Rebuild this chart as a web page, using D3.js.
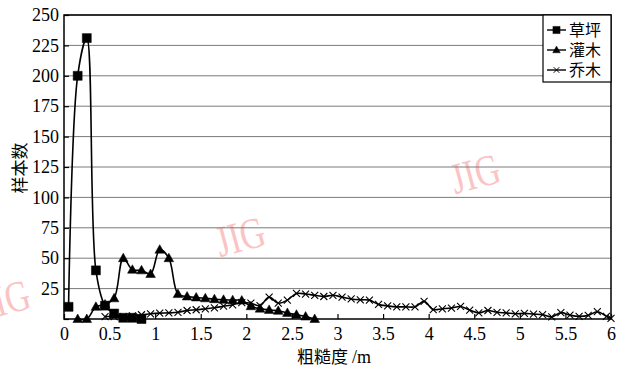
<!DOCTYPE html>
<html>
<head>
<meta charset="utf-8">
<script src="https://cdn.jsdelivr.net/npm/d3@7"></script>
<style>
  body { margin: 0; background: #fff; }
  svg { display: block; }
  svg text.num { font-family: "Liberation Serif", serif; font-size: 18px; }
</style>
</head>
<body>
<div id="chart"></div>
<script>
// Data (roughness in m, sample counts)
var grassX = [0.05, 0.15, 0.25, 0.35, 0.45, 0.55, 0.65, 0.75, 0.85];
var grassY = [10, 200, 231, 40, 11, 4.5, 1, 1, 0];

var shrubX = [0.15, 0.25, 0.35, 0.45, 0.55, 0.65, 0.75, 0.85, 0.95, 1.05, 1.15, 1.25, 1.35, 1.45,
              1.55, 1.65, 1.75, 1.85, 1.95, 2.05, 2.15, 2.25, 2.35, 2.45, 2.55, 2.65, 2.75];
var shrubY = [0, 0, 10, 12, 17, 50, 40.5, 40, 37, 57, 50, 20.5, 18.5, 17.7,
              17, 16.3, 15.8, 15.5, 15.2, 10.5, 8.5, 7.5, 6.7, 5, 3.5, 2, 0];

var treeX = [0.45, 0.55, 0.65, 0.75, 0.85, 0.95, 1.05, 1.15, 1.25, 1.35, 1.45, 1.55, 1.65, 1.75,
             1.85, 1.95, 2.05, 2.15, 2.25, 2.35, 2.45, 2.55, 2.65, 2.75, 2.85, 2.95, 3.05, 3.15,
             3.25, 3.35, 3.45, 3.55, 3.65, 3.75, 3.85, 3.95, 4.05, 4.15, 4.25, 4.35, 4.45, 4.55,
             4.65, 4.75, 4.85, 4.95, 5.05, 5.15, 5.25, 5.35, 5.45, 5.55, 5.65, 5.75, 5.85, 5.95, 6.0];
var treeY = [2, 2, 2, 2.5, 3.5, 4.3, 4.8, 5, 5.5, 7, 7.6, 8.4, 9.2, 10.5,
             11.7, 13.5, 13, 11, 18, 13, 15.5, 21, 20.5, 19.5, 18.5, 19.5, 18, 16.5,
             15.8, 15.5, 12, 10.8, 10, 10, 10, 14.5, 7.8, 8.4, 9, 10.3, 7.3, 5,
             7, 5.5, 5, 4.3, 4.6, 4, 3.6, 1.8, 5.2, 3.2, 2.2, 3, 6, 2.2, 0.5];

var xTicks = [0, 0.5, 1, 1.5, 2, 2.5, 3, 3.5, 4, 4.5, 5, 5.5, 6];
var yTicks = [25, 50, 75, 100, 125, 150, 175, 200, 225, 250];
var seriesNames = ["草坪", "灌木", "乔木"];

var W = 624, H = 370;
var margin = {top: 15, right: 13, bottom: 51, left: 64};
var cjk = "'Noto Sans CJK SC', sans-serif";

var svg = d3.select("#chart").append("svg")
  .attr("width", W).attr("height", H);

// faint watermark stamps
var marks = [[240, 236], [475, 173], [5, 299]];
svg.selectAll(".wm").data(marks).enter().append("text")
  .attr("transform", function(d) { return "translate(" + d[0] + "," + d[1] + ") rotate(-15) scale(0.78,1)"; })
  .attr("text-anchor", "middle")
  .attr("dy", "0.35em")
  .attr("font-family", "Liberation Serif")
  .attr("font-size", 44)
  .attr("fill", "#fbc4c4")
  .text("JIG");

var x = d3.scaleLinear().domain([0, 6]).range([margin.left, W - margin.right]);
var y = d3.scaleLinear().domain([0, 250]).range([H - margin.bottom, margin.top]);

// gridlines
svg.append("g").selectAll("line").data(yTicks).enter().append("line")
  .attr("x1", x(0)).attr("x2", x(6))
  .attr("y1", function(d) { return y(d); }).attr("y2", function(d) { return y(d); })
  .attr("stroke", "#7a7a7a").attr("stroke-width", 1);

// axes (ticks point inward)
var xAxis = svg.append("g")
  .attr("transform", "translate(0," + y(0) + ")")
  .call(d3.axisBottom(x).tickValues(xTicks).tickSize(-5).tickPadding(8).tickFormat(d3.format("")));
var yAxis = svg.append("g")
  .attr("transform", "translate(" + x(0) + ",0)")
  .call(d3.axisLeft(y).tickValues(yTicks.concat([0])).tickSize(-5).tickPadding(5)
    .tickFormat(function(d) { return d === 0 ? "" : d; }));
[xAxis, yAxis].forEach(function(a) {
  a.attr("font-family", "Liberation Serif").attr("font-size", 18);
  a.select(".domain").remove();
  a.selectAll("line").attr("stroke", "#000").attr("stroke-width", 1.2);
  a.selectAll("text").attr("fill", "#000")
    .attr("class", "num")
    .attr("font-family", "Liberation Serif").attr("font-size", 18);
});

// plot frame
svg.append("rect")
  .attr("x", x(0)).attr("y", y(250))
  .attr("width", x(6) - x(0)).attr("height", y(0) - y(250))
  .attr("fill", "none").attr("stroke", "#000").attr("stroke-width", 1.5);

// series
var line = d3.line()
  .x(function(d) { return x(d[0]); })
  .y(function(d) { return y(d[1]); })
  .curve(d3.curveCatmullRom.alpha(0.5));

var symSquare = "M-4.5,-4.5H4.5V4.5H-4.5Z";
var symTri = "M0,-5L4.8,3.5H-4.8Z";
var symCross = "M-3.5,-3.5L3.5,3.5M-3.5,3.5L3.5,-3.5";

var series = [
  {x: grassX, y: grassY, sym: symSquare, fill: "#000"},
  {x: shrubX, y: shrubY, sym: symTri, fill: "#000"},
  {x: treeX, y: treeY, sym: symCross, fill: "none"}
];

series.forEach(function(s) {
  var pts = s.x.map(function(v, i) { return [v, s.y[i]]; });
  svg.append("path").datum(pts)
    .attr("d", line)
    .attr("fill", "none").attr("stroke", "#000").attr("stroke-width", 1.6);
  svg.append("g").selectAll("path").data(pts).enter().append("path")
    .attr("transform", function(d) { return "translate(" + x(d[0]) + "," + y(d[1]) + ")"; })
    .attr("d", s.sym)
    .attr("fill", s.fill)
    .attr("stroke", "#000").attr("stroke-width", s.fill === "none" ? 1.1 : 0.5);
});

// legend
var lg = svg.append("g").attr("transform", "translate(543,15)");
lg.append("rect").attr("width", 68).attr("height", 67)
  .attr("fill", "#fff").attr("stroke", "#000").attr("stroke-width", 1.2);
seriesNames.forEach(function(name, i) {
  var cy = 15 + i * 20;
  lg.append("line").attr("x1", 4).attr("x2", 23).attr("y1", cy).attr("y2", cy)
    .attr("stroke", "#000").attr("stroke-width", 1.4);
  lg.append("path").attr("transform", "translate(13.5," + cy + ") scale(0.8)")
    .attr("d", series[i].sym).attr("fill", series[i].fill)
    .attr("stroke", "#000").attr("stroke-width", series[i].fill === "none" ? 1.2 : 0.5);
  lg.append("text").attr("x", 26).attr("y", cy).attr("dy", "0.36em")
    .style("font-family", cjk).style("font-size", "16px").text(name);
});

// axis titles
var xt = svg.append("text")
  .attr("x", 334).attr("y", 363).attr("text-anchor", "middle")
  .style("font-family", cjk).style("font-size", "17px");
xt.append("tspan").text("粗糙度 ");
xt.append("tspan").attr("font-family", "Liberation Serif").style("font-family", "Liberation Serif")
  .style("font-size", "18px").text("/m");
svg.append("text")
  .attr("transform", "translate(26,168) rotate(-90)")
  .attr("text-anchor", "middle")
  .style("font-family", cjk).style("font-size", "17px")
  .text("样本数");
</script>
</body>
</html>
